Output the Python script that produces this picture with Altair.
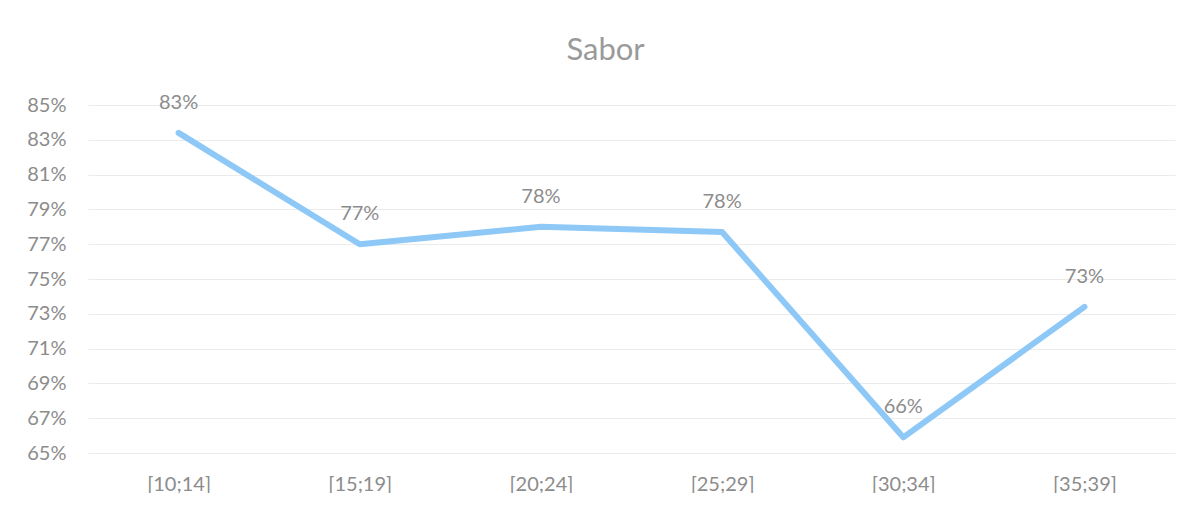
import altair as alt
import pandas as pd

categories = ["[10;14]", "[15;19]", "[20;24]", "[25;29]", "[30;34]", "[35;39]"]
values = [0.834, 0.770, 0.780, 0.777, 0.659, 0.734]
labels = ["83%", "77%", "78%", "78%", "66%", "73%"]
y_ticks = [0.65, 0.67, 0.69, 0.71, 0.73, 0.75, 0.77, 0.79, 0.81, 0.83, 0.85]

df = pd.DataFrame({"cat": categories, "val": values, "lab": labels})

FONT = "Lato"
GRAY = "#8c8c8c"

x = alt.X("cat:N", sort=categories, title=None,
          axis=alt.Axis(labelAngle=0, labelFont=FONT, labelFontSize=20, labelColor=GRAY,
                        domain=False, ticks=False, labelPadding=21, grid=False),
          scale=alt.Scale(paddingInner=0, paddingOuter=0.5))
y = alt.Y("val:Q", title=None,
          scale=alt.Scale(domain=[0.65, 0.85], nice=False, zero=False),
          axis=alt.Axis(values=y_ticks, format=".0%", labelFont=FONT, labelFontSize=20,
                        labelColor=GRAY, domain=False, ticks=False, labelPadding=22,
                        labelOverlap=False, labelBound=False, labelFlush=False,
                        gridColor="#ebebeb", gridWidth=1))

base = alt.Chart(df).encode(x=x, y=y)
line = base.mark_line(color="#8ec8f7", strokeWidth=6, strokeCap="round", strokeJoin="round")
text = base.mark_text(dy=-30, font=FONT, fontSize=20, color=GRAY).encode(text="lab:N")

chart = (line + text).properties(
    width=1087, height=348,
    background="white",
    title=alt.TitleParams("Sabor", font=FONT, fontSize=31, color="#9a9a9a", fontWeight="normal",
                          anchor="middle", dx=-26, offset=26),
    autosize=alt.AutoSizeParams(type="none"),
    padding={"left": 80, "top": 97, "right": 10, "bottom": 40},
).configure_view(strokeWidth=0)

chart.save("out.html", embed_options={"renderer": "svg", "actions": False})
